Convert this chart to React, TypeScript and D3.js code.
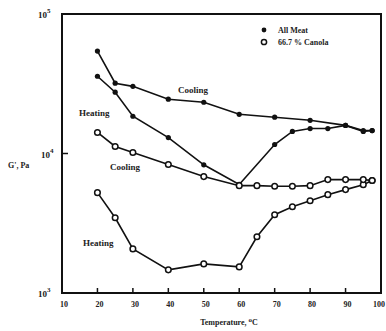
import * as d3 from 'd3';
import React from 'react';

// temperatures (°C) and G' values (Pa)
const meatHeatT = [20, 25, 30, 40, 50, 60, 70, 75, 80, 85, 90, 95, 97.5];
const meatHeatG = [35800, 27500, 18500, 13000, 8300, 6000, 11600, 14400, 15100, 15100, 15900, 14400, 14600];
const meatCoolT = [97.5, 95, 90, 80, 70, 60, 50, 40, 30, 25, 20];
const meatCoolG = [14600, 14600, 15900, 17300, 18200, 19100, 23300, 24500, 30300, 31900, 54200];
const canHeatT = [20, 25, 30, 40, 50, 60, 65, 70, 75, 80, 85, 90, 95, 97.5];
const canHeatG = [5240, 3460, 2070, 1465, 1617, 1538, 2530, 3640, 4150, 4590, 5070, 5510, 5980, 6400];
const canCoolT = [97.5, 95, 90, 85, 80, 75, 70, 65, 60, 50, 40, 30, 25, 20];
const canCoolG = [6400, 6500, 6500, 6500, 5880, 5830, 5830, 5880, 5880, 6830, 8330, 10170, 11230, 14160];

const xTicks = [10, 20, 30, 40, 50, 60, 70, 80, 90, 100];
const yTicks = [1000, 10000, 100000];
const yExp = ['3', '4', '5'];

const W = 386;
const H = 331;
const font = '"Liberation Serif", "DejaVu Serif", serif';

export default function App() {
  const x = d3.scaleLinear().domain([10, 100]).range([62, 381]);
  const y = d3.scaleLog().domain([1000, 100000]).range([293, 14]);

  const pts = (t: number[], g: number[]) => t.map((v, i) => [v, g[i]] as [number, number]);
  const line = d3
    .line<[number, number]>()
    .x((d) => x(d[0]))
    .y((d) => y(d[1]));

  const meat = [pts(meatHeatT, meatHeatG), pts(meatCoolT, meatCoolG)];
  const canola = [pts(canHeatT, canHeatG), pts(canCoolT, canCoolG)];

  return (
    <svg width={W} height={H} style={{ position: 'absolute', left: 0, top: 0, background: '#fff' }}>
      {/* frame */}
      <rect x={x(10)} y={y(100000)} width={x(100) - x(10)} height={y(1000) - y(100000)}
        fill="none" stroke="#111" strokeWidth={2} />

      {/* x ticks + labels */}
      {xTicks.map((t) => (
        <g key={t}>
          {t > 10 && t < 100 && (
            <line x1={x(t)} x2={x(t)} y1={y(1000)} y2={y(1000) - 5} stroke="#111" strokeWidth={1.5} />
          )}
          <text x={t === 100 ? 385 : x(t) + 2} y={307} textAnchor={t === 100 ? 'end' : 'middle'}
            fontFamily={font} fontWeight="bold" fontSize={8} fill="#222">
            {t}
          </text>
        </g>
      ))}

      {/* y ticks + labels */}
      {yTicks.map((v, i) => (
        <g key={v}>
          {i === 1 && <line x1={x(10)} x2={x(10) + 6} y1={y(v)} y2={y(v)} stroke="#111" strokeWidth={1.5} />}
          <text x={i === 1 ? 41 : 38} y={y(v) + 4} fontFamily={font} fontWeight="bold" fontSize={9} fill="#222">
            10
            <tspan dy={-5} fontSize={7}>{yExp[i]}</tspan>
          </text>
        </g>
      ))}

      <text x={8} y={168} fontFamily={font} fontWeight="bold" fontSize={8} fill="#222">G', Pa</text>
      <text x={229} y={325} textAnchor="middle" fontFamily={font} fontWeight="bold" fontSize={8} fill="#222">
        Temperature, <tspan dy={-3} fontSize={7}>o</tspan><tspan dy={3}>C</tspan>
      </text>

      {/* curves */}
      {[...meat, ...canola].map((d, i) => (
        <path key={i} d={line(d) ?? ''} fill="none" stroke="#111" strokeWidth={1.6} />
      ))}
      {meat.map((d, i) =>
        d.map((p, j) => <circle key={`m${i}-${j}`} cx={x(p[0])} cy={y(p[1])} r={2.6} fill="#111" />)
      )}
      {canola.map((d, i) =>
        d.map((p, j) => (
          <circle key={`c${i}-${j}`} cx={x(p[0])} cy={y(p[1])} r={2.8} fill="#fff" stroke="#111" strokeWidth={1.5} />
        ))
      )}

      {/* curve labels */}
      <g fontFamily={font} fontWeight="bold" fontSize={9} fill="#222">
        <text x={178} y={93}>Cooling</text>
        <text x={79} y={116}>Heating</text>
        <text x={110} y={170}>Cooling</text>
        <text x={83} y={246}>Heating</text>
      </g>

      {/* legend */}
      <circle cx={264} cy={30} r={2.4} fill="#111" />
      <circle cx={264} cy={42} r={2.6} fill="#fff" stroke="#111" strokeWidth={1.5} />
      <g fontFamily={font} fontWeight="bold" fontSize={8} fill="#222">
        <text x={278} y={33}>All Meat</text>
        <text x={278} y={45}>66.7 % Canola</text>
      </g>
    </svg>
  );
}
